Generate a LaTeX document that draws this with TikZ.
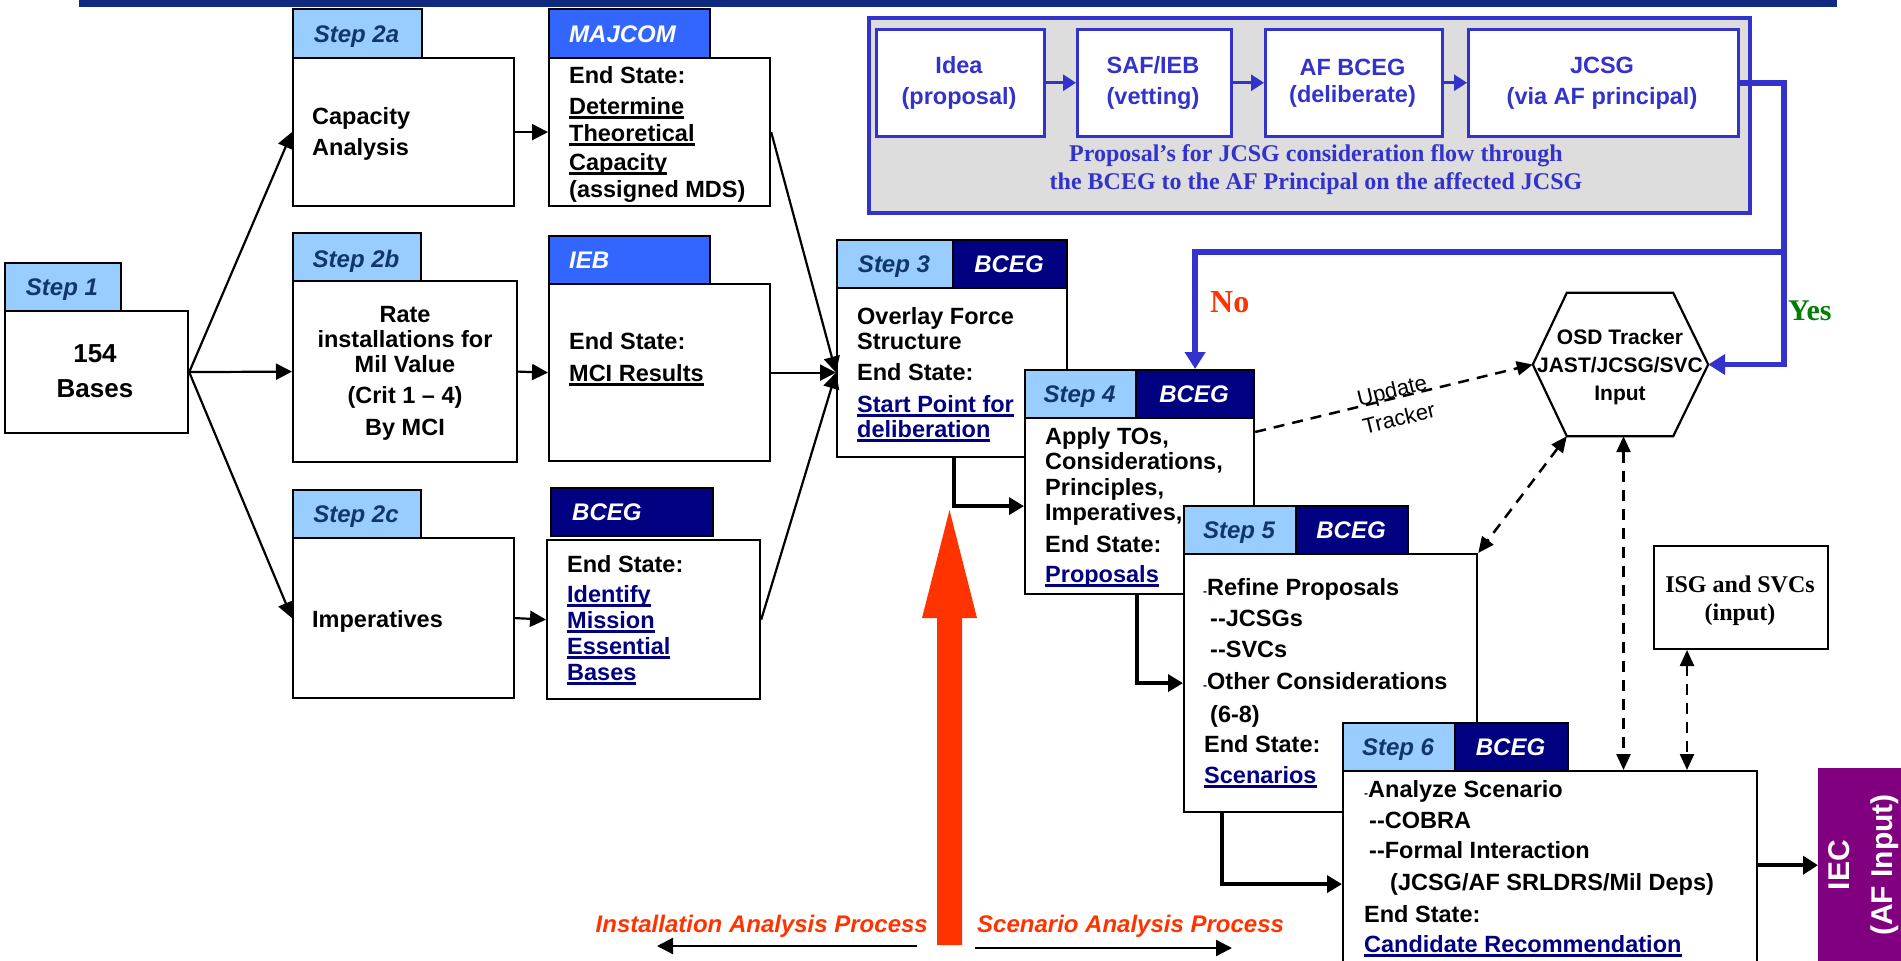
\documentclass[tikz,border=0pt]{standalone}
\usepackage{fontspec}
\setmainfont{Liberation Sans}
\newfontfamily\tnr{Liberation Serif}
\usetikzlibrary{arrows.meta,calc}
\definecolor{stepbg}{RGB}{153,204,255}
\definecolor{steptxt}{RGB}{15,55,110}
\definecolor{orgblue}{RGB}{51,102,255}
\definecolor{navyc}{RGB}{0,0,128}
\definecolor{pblue}{RGB}{51,51,204}
\definecolor{grayfill}{RGB}{221,221,221}
\definecolor{redo}{RGB}{255,51,0}
\definecolor{yesgreen}{RGB}{0,128,0}
\definecolor{iecpurple}{RGB}{128,0,128}
\definecolor{barblue}{RGB}{16,42,128}
\newcommand\fs[1]{\fontsize{#1}{#1}\selectfont}
\newsavebox\ulbox
\newcommand\myul[1]{\sbox\ulbox{#1}\rlap{\rule[-4.5pt]{\wd\ulbox}{2.6pt}}\usebox\ulbox}
\newcommand\bul{{\color{navyc}\fs{12}-}}
\begin{document}
\begin{tikzpicture}[x=1pt,y=-1pt,
  bx/.style={draw=black, line width=2.2pt, fill=white, inner sep=0pt, anchor=north west},
  tabS/.style={bx, fill=stepbg},
  tabB/.style={bx, fill=navyc},
  tabM/.style={bx, fill=orgblue},
  tx/.style={inner sep=0pt, anchor=base west, font=\fs{23.5}\bfseries},
  txc/.style={tx, anchor=base},
  nv/.style={tx, text=navyc},
  slbl/.style={inner sep=0pt, anchor=base, font=\fs{24}\bfseries\itshape, text=steptxt},
  wlbl/.style={inner sep=0pt, anchor=base, font=\fs{24}\bfseries\itshape, text=white},
  arr/.style={draw=black, line width=2.2pt, -{Triangle[length=16pt,width=16pt]}},
  tarr/.style={draw=black, line width=3.6pt, -{Triangle[length=15pt,width=17pt]}},
  darr/.style={draw=black, line width=2.5pt, dash pattern=on 11pt off 8pt, -{Triangle[length=16pt,width=14pt]}},
  dboth/.style={darr, {Triangle[length=16pt,width=14pt]}-{Triangle[length=16pt,width=14pt]}},
  pbx/.style={draw=pblue, line width=2.5pt, fill=white, inner sep=0pt, anchor=north west},
  ptx/.style={inner sep=0pt, anchor=base, font=\fs{23.5}\bfseries, text=pblue},
  barr/.style={draw=pblue, line width=3pt, -{Triangle[length=13pt,width=16pt]}},
  bpath/.style={draw=pblue, line width=5.5pt, line join=miter, -{Triangle[length=17pt,width=20pt]}},
  redlbl/.style={inner sep=0pt, font=\fs{24}\bfseries\itshape, text=redo},
]
\useasboundingbox (0,0) rectangle (1901,961);
\clip (0,0) rectangle (1901,961);

% top bar
\fill[barblue] (79,0) rectangle (1837,7);

% ---------- gray proposal box ----------
\node[draw=pblue, line width=4pt, fill=grayfill, anchor=north west, inner sep=0pt, minimum width=881, minimum height=195] (gray) at (867,16) {};
\node[pbx, minimum width=168, minimum height=107] (idea) at (875,28) {};
\node[pbx, minimum width=154, minimum height=107] (saf) at (1076,28) {};
\node[pbx, minimum width=177, minimum height=107] (afb) at (1264,28) {};
\node[pbx, minimum width=270, minimum height=107] (jcsg) at (1467,28) {};
\node[ptx] (ideaa) at (959,73) {Idea};
\node[ptx] (ideab) at (959,104) {(proposal)};
\node[ptx] (safa) at (1153,73) {SAF/IEB};
\node[ptx] (safb) at (1153,104) {(vetting)};
\node[ptx] (afba) at (1352.5,75) {AF BCEG};
\node[ptx] (afbb) at (1352.5,102) {(deliberate)};
\node[ptx] (jcsga) at (1602,73) {JCSG};
\node[ptx] (jcsgb) at (1602,104) {(via AF principal)};
\node[inner sep=0pt, anchor=base, font=\tnr\fs{24}\bfseries, text=pblue] (gt1) at (1316,161) {Proposal’s for JCSG consideration flow through};
\node[inner sep=0pt, anchor=base, font=\tnr\fs{24}\bfseries, text=pblue] (gt2) at (1316,189) {the BCEG to the AF Principal on the affected JCSG};
\draw[barr] (idea.east) -- (saf.west);
\draw[barr] (saf.east) -- (afb.west);
\draw[barr] (afb.east) -- (jcsg.west);

% ---------- Step 1 ----------
\node[tabS, minimum width=116, minimum height=48] (t1) at (4,262) {};
\node[bx, minimum width=183, minimum height=122] (b1) at (4,310) {};
\node[slbl] (l1) at (62,295) {Step 1};
\node[txc, font=\fs{26}\bfseries] (x1a) at (95,362) {154};
\node[txc, font=\fs{26}\bfseries] (x1b) at (95,397) {Bases};

% ---------- Step 2a ----------
\node[tabS, minimum width=129, minimum height=49] (t2a) at (292,8) {};
\node[bx, minimum width=221, minimum height=148] (b2a) at (292,57) {};
\node[slbl] (l2a) at (356.5,42) {Step 2a};
\node[tx] (x2a1) at (312,124) {Capacity};
\node[tx] (x2a2) at (312,155) {Analysis};

\node[tabM, minimum width=161, minimum height=49] (tm) at (548,8) {};
\node[bx, minimum width=221, minimum height=148] (bm) at (548,57) {};
\node[wlbl, anchor=base west] (lm) at (569,42) {MAJCOM};
\node[tx] (xm1) at (569,83) {End State:};
\node[tx] (xm2) at (569,114) {\myul{Determine}};
\node[tx] (xm3) at (569,141) {\myul{Theoretical}};
\node[tx] (xm4) at (569,170) {\myul{Capacity}};
\node[tx] (xm5) at (569,197) {(assigned MDS)};

% ---------- Step 2b ----------
\node[tabS, minimum width=128, minimum height=48] (t2b) at (292,232) {};
\node[bx, minimum width=224, minimum height=181] (b2b) at (292,280) {};
\node[slbl] (l2b) at (356,267) {Step 2b};
\node[txc] (x2b1) at (405,322) {Rate};
\node[txc] (x2b2) at (405,347) {installations for};
\node[txc] (x2b3) at (405,372) {Mil Value};
\node[txc] (x2b4) at (405,403) {(Crit 1 -- 4)};
\node[txc] (x2b5) at (405,435) {By MCI};

\node[tabM, minimum width=161, minimum height=48] (ti) at (548,235) {};
\node[bx, minimum width=221, minimum height=177] (bi) at (548,283) {};
\node[wlbl, anchor=base west] (li) at (569,268) {IEB};
\node[tx] (xi1) at (569,349) {End State:};
\node[tx] (xi2) at (569,381) {\myul{MCI Results}};

% ---------- Step 2c ----------
\node[tabS, minimum width=128, minimum height=48] (t2c) at (292,489) {};
\node[bx, minimum width=221, minimum height=160] (b2c) at (292,537) {};
\node[slbl] (l2c) at (356,522) {Step 2c};
\node[tx] (x2c) at (312,627) {Imperatives};

\node[tabB, minimum width=162, minimum height=48] (tb) at (550,487) {};
\node[bx, minimum width=213, minimum height=159] (bb) at (546,539) {};
\node[wlbl, anchor=base west] (lb) at (572,520) {BCEG};
\node[tx] (xb1) at (567,572) {End State:};
\node[nv] (xb2) at (567,602) {\myul{Identify}};
\node[nv] (xb3) at (567,628) {\myul{Mission}};
\node[nv] (xb4) at (567,654) {\myul{Essential}};
\node[nv] (xb5) at (567,680) {\myul{Bases}};

% ---------- Step 3 ----------
\node[tabS, minimum width=116, minimum height=48] (t3) at (836,239) {};
\node[tabB, minimum width=114, minimum height=48] (t3b) at (952,239) {};
\node[bx, minimum width=230, minimum height=169] (b3) at (836,287) {};
\node[slbl] (l3) at (894,272) {Step 3};
\node[wlbl] (l3b) at (1009,272) {BCEG};
\node[tx] (x31) at (857,324) {Overlay Force};
\node[tx] (x32) at (857,349) {Structure};
\node[tx] (x33) at (857,380) {End State:};
\node[nv] (x34) at (857,412) {\myul{Start Point for}};
\node[nv] (x35) at (857,437) {\myul{deliberation}};

% ---------- Step 4 ----------
\node[tabS, minimum width=111, minimum height=48] (t4) at (1024,369) {};
\node[tabB, minimum width=118, minimum height=48] (t4b) at (1135,369) {};
\node[bx, minimum width=229, minimum height=176] (b4) at (1024,417) {};
\node[slbl] (l4) at (1079.5,402) {Step 4};
\node[wlbl] (l4b) at (1194,402) {BCEG};
\node[tx] (x41) at (1045,444) {Apply TOs,};
\node[tx] (x42) at (1045,469) {Considerations,};
\node[tx] (x43) at (1045,495) {Principles,};
\node[tx] (x44) at (1045,520) {Imperatives,};
\node[tx] (x45) at (1045,552) {End State:};
\node[nv] (x46) at (1045,582) {\myul{Proposals}};

% ---------- Step 5 ----------
\node[tabS, minimum width=112, minimum height=48] (t5) at (1183,505) {};
\node[tabB, minimum width=112, minimum height=48] (t5b) at (1295,505) {};
\node[bx, minimum width=293, minimum height=258] (b5) at (1183,553) {};
\node[slbl] (l5) at (1239,538) {Step 5};
\node[wlbl] (l5b) at (1351,538) {BCEG};
\node[tx] (x51) at (1203,595) {\bul Refine Proposals};
\node[tx] (x52) at (1210,626) {-{}-JCSGs};
\node[tx] (x53) at (1210,657) {-{}-SVCs};
\node[tx] (x54) at (1203,689) {\bul Other Considerations};
\node[tx] (x55) at (1210,722) {(6-8)};
\node[tx] (x56) at (1204,752) {End State:};
\node[nv] (x57) at (1204,783) {\myul{Scenarios}};

% ---------- Step 6 ----------
\node[tabS, minimum width=112, minimum height=48] (t6) at (1342,722) {};
\node[tabB, minimum width=113, minimum height=48] (t6b) at (1454,722) {};
\node[bx, minimum width=414, minimum height=226] (b6) at (1342,770) {};
\node[slbl] (l6) at (1398,755) {Step 6};
\node[wlbl] (l6b) at (1510.5,755) {BCEG};
\node[tx] (x61) at (1364,797) {\bul Analyze Scenario};
\node[tx] (x62) at (1369,828) {-{}-COBRA};
\node[tx] (x63) at (1369,858) {-{}-Formal Interaction};
\node[tx] (x64) at (1390,890) {(JCSG/AF SRLDRS/Mil Deps)};
\node[tx] (x65) at (1364,922) {End State:};
\node[nv] (x66) at (1364,952) {\myul{Candidate Recommendation}};

% ---------- OSD tracker hexagon ----------
\node[inner sep=0pt, minimum width=175, minimum height=143] (hex) at (1620.5,364.5) {};
\draw[line width=2.2pt, line join=miter, fill=white] (hex.west) -- ($(hex.north west)+(34,0)$) -- ($(hex.north east)+(-35,0)$) -- (hex.east) -- ($(hex.south east)+(-35,0)$) -- ($(hex.south west)+(34,0)$) -- cycle;
\node[inner sep=0pt, anchor=base, font=\fs{21}\bfseries] (h1) at (1620,344) {OSD Tracker};
\node[inner sep=0pt, anchor=base, font=\fs{21}\bfseries] (h2) at (1620,372) {JAST/JCSG/SVC};
\node[inner sep=0pt, anchor=base, font=\fs{21}\bfseries] (h3) at (1620,400) {Input};

% ---------- ISG box ----------
\node[bx, line width=2pt, minimum width=174, minimum height=103] (isg) at (1653,545) {};
\node[inner sep=0pt, anchor=base, font=\tnr\fs{24}\bfseries] (isg1) at (1740,592) {ISG and SVCs};
\node[inner sep=0pt, anchor=base, font=\tnr\fs{24}\bfseries] (isg2) at (1740,620) {(input)};

% ---------- IEC ----------
\node[fill=iecpurple, anchor=north west, inner sep=0pt, minimum width=100, minimum height=194] (iec) at (1818,768) {};
\node[rotate=90, inner sep=0pt, align=center, font=\fontsize{30}{43}\selectfont\bfseries, text=white] (iect) at (1864,865) {IEC\\(AF Input)};

% ---------- connectors ----------
\draw[arr] (b1.east) -- (b2a.west);
\draw[arr] (b1.east) -- (b2b.west);
\draw[arr] (b1.east) -- (b2c.west);
\draw[arr] (b2a.east) -- (bm.west);
\draw[arr] (b2b.east) -- (bi.west);
\draw[arr] (b2c.east) -- (bb.west);
\draw[arr] (bm.east) -- (b3.west);
\draw[arr] (bi.east) -- (b3.west);
\draw[arr] (bb.east) -- (b3.west);

\draw[tarr] (b3.south -| t3.east) |- (b4.west);
\draw[tarr] (b4.south -| t4.east) |- (b5.west);
\coordinate (s5o) at ($(b5.south west)+(39,0)$);
\draw[tarr] (s5o) |- (b6.west);
\draw[draw=black, line width=4.5pt, -{Triangle[length=15pt,width=18pt]}] (b6.east |- iec.west) -- (iec.west);

% blue decision paths
\coordinate (bR) at (1784,252);
\draw[bpath] (jcsg.east) -| (bR) -| (t4b.north);
\draw[bpath] (bR) |- (hex.east);
\node[inner sep=0pt, anchor=base west, font=\tnr\fs{32}\bfseries, text=redo] (no) at (1210,312) {No};
\node[inner sep=0pt, anchor=base west, font=\tnr\fs{30}\bfseries, text=yesgreen] (yes) at (1788,320) {Yes};

% dashed links
\draw[darr] ($(b4.north east)+(0,15)$) -- (hex.west)
  node[midway, sloped, yshift=-6pt, inner sep=0pt, align=center, font=\fontsize{22}{29}\selectfont] (ut) {Update\\Tracker};
\draw[dboth] ($(hex.south west)+(34,0)$) -- (b5.north east);
\coordinate (hxb) at ($(hex.south)+(3,0)$);
\draw[dboth] (hxb) -- (hxb |- b6.north);
\coordinate (isgb) at ($(isg.south west)+(34,0)$);
\draw[dboth] (isgb) -- (isgb |- b6.north);

% ---------- big red arrow and process labels ----------
\fill[redo] (937,945) -- (937,618) -- (922,618) -- (949.5,510) -- (977,618) -- (962,618) -- (962,945) -- cycle;
\node[redlbl, anchor=base east] (ilbl) at (928,932) {Installation Analysis Process};
\node[redlbl, anchor=base west] (slbl2) at (977,932) {Scenario Analysis Process};
\coordinate (ipa) at (917,946);
\coordinate (ipb) at (657,946);
\draw[arr] (ipa) -- (ipb);
\coordinate (spa) at (975,948);
\coordinate (spb) at (1232,948);
\draw[arr] (spa) -- (spb);
\end{tikzpicture}
\end{document}
